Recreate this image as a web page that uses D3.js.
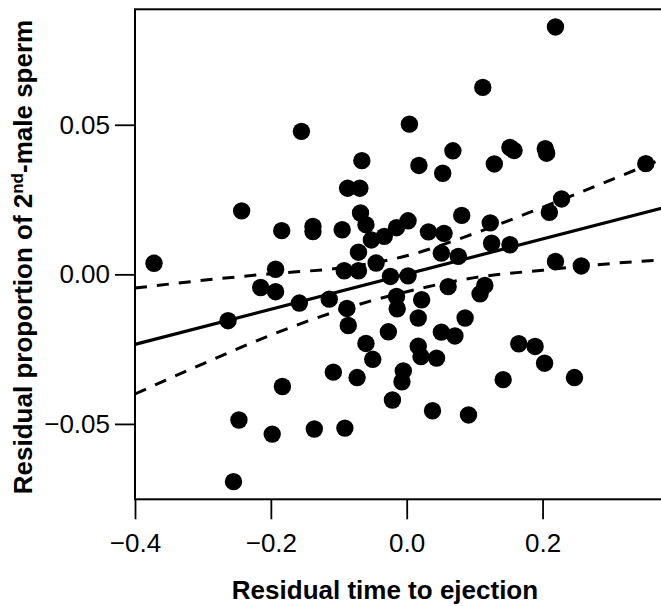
<!DOCTYPE html>
<html lang="en">
<head>
<meta charset="utf-8">
<title>Residual time to ejection vs 2nd-male sperm</title>
<script src="https://d3js.org/d3.v7.min.js"></script>
<style>
  body { margin: 0; background: #fff; }
  text { font-family: "Liberation Sans", Arial, Helvetica, sans-serif; fill: #000; }
</style>
</head>
<body>
<script>
// points
var residTime = [0.219, 0.112, 0.004, -0.155, 0.152, 0.158, 0.204, 0.206, 0.068, -0.066,
  0.352, 0.129, 0.018, 0.053, -0.087, -0.069, 0.228, 0.210, -0.243, -0.068,
  0.081, 0.123, -0.060, -0.184, -0.138, -0.138, -0.095, 0.002, -0.015, -0.033,
  -0.052, 0.032, 0.055, 0.125, 0.152, 0.051, 0.076, -0.071, -0.045, 0.219,
  0.257, -0.372, -0.193, -0.092, -0.071, -0.024, 0.002, -0.215, -0.193, -0.263,
  -0.158, -0.114, -0.088, -0.086, -0.015, -0.014, 0.022, 0.061, 0.115, 0.108,
  0.017, 0.086, -0.027, 0.051, 0.071, -0.060, -0.050, 0.017, 0.021, 0.044,
  0.165, 0.189, 0.203, -0.108, -0.073, -0.005, -0.007, 0.142, 0.247, -0.183,
  -0.021, 0.038, 0.091, -0.247, -0.198, -0.136, -0.091, -0.255];
var residProp = [0.0827, 0.0625, 0.0502, 0.0478, 0.0424, 0.0414, 0.0420, 0.0405, 0.0413, 0.0380,
  0.0370, 0.0369, 0.0364, 0.0338, 0.0288, 0.0288, 0.0252, 0.0207, 0.0212, 0.0205,
  0.0197, 0.0172, 0.0166, 0.0146, 0.0160, 0.0143, 0.0149, 0.0179, 0.0156, 0.0127,
  0.0115, 0.0142, 0.0137, 0.0104, 0.0099, 0.0071, 0.0060, 0.0074, 0.0038, 0.0043,
  0.0028, 0.0037, 0.0017, 0.0012, 0.0012, -0.0007, -0.0005, -0.0044, -0.0058, -0.0155,
  -0.0096, -0.0083, -0.0114, -0.0171, -0.0074, -0.0115, -0.0085, -0.0041, -0.0037, -0.0065,
  -0.0146, -0.0146, -0.0192, -0.0193, -0.0206, -0.0231, -0.0284, -0.0240, -0.0275, -0.0280,
  -0.0232, -0.0241, -0.0297, -0.0327, -0.0345, -0.0323, -0.0359, -0.0352, -0.0345, -0.0375,
  -0.0420, -0.0456, -0.0470, -0.0487, -0.0534, -0.0517, -0.0514, -0.0693];

// fitted line and its confidence band
var fitX = [-0.4, 0.375];
var fitY = [-0.0234, 0.0221];
var bandX = [-0.4, -0.3, -0.2, -0.1, 0, 0.1, 0.2, 0.3, 0.375];
var bandUpper = [-0.0046, -0.0020, 0.0002, 0.0021, 0.0062, 0.0137, 0.0224, 0.0315, 0.0385];
var bandLower = [-0.0400, -0.0299, -0.0203, -0.0121, -0.0058, -0.0011, 0.0014, 0.0036, 0.0048];

var xTicks = [-0.4, -0.2, 0.0, 0.2];
var yTicks = [-0.05, 0.00, 0.05];

var width = 661, height = 606;
var plotLeft = 135, plotTop = 9.3, plotBottom = 499.3;

var x = d3.scaleLinear().domain([-0.4, 0.4]).range([plotLeft, 678.4]);
var y = d3.scaleLinear().domain([-0.0752, 0.0886]).range([plotBottom, plotTop]);

var svg = d3.select("body").append("svg")
  .attr("width", width)
  .attr("height", height);

var fmtX = function(d) { return d3.format(".1f")(d).replace("-", "\u2212"); };
var fmtY = function(d) { return d3.format(".2f")(d).replace("-", "\u2212"); };

//x axis
var xAxis = svg.append("g")
  .attr("transform", "translate(0," + plotBottom + ")")
  .call(d3.axisBottom(x).tickValues(xTicks).tickSize(20).tickPadding(14).tickFormat(fmtX));
xAxis.select(".domain").remove();
xAxis.selectAll("line").attr("stroke-width", 1.8);
xAxis.selectAll("text").style("font-size", "26px");

//y axis
var yAxis = svg.append("g")
  .attr("transform", "translate(" + plotLeft + ",0)")
  .call(d3.axisLeft(y).tickValues(yTicks).tickSize(20).tickPadding(5).tickFormat(fmtY));
yAxis.select(".domain").remove();
yAxis.selectAll("line").attr("stroke-width", 1.8);
yAxis.selectAll("text").style("font-size", "26px");

// box (right side falls off the picture)
svg.append("rect")
  .attr("x", plotLeft)
  .attr("y", plotTop)
  .attr("width", x(0.4) - plotLeft)
  .attr("height", plotBottom - plotTop)
  .attr("fill", "none")
  .attr("stroke", "#000")
  .attr("stroke-width", 2);

// points
svg.append("g").selectAll("circle")
  .data(residTime)
  .enter()
  .append("circle")
  .attr("cx", function(d) { return x(d); })
  .attr("cy", function(d, i) { return y(residProp[i]); })
  .attr("r", 8.7)
  .attr("fill", "#000");

// regression line
var fitLine = d3.line()
  .x(function(d) { return x(d[0]); })
  .y(function(d) { return y(d[1]); });
svg.append("path")
  .attr("d", fitLine(d3.zip(fitX, fitY)))
  .attr("fill", "none")
  .attr("stroke", "#000")
  .attr("stroke-width", 3.2);

// confidence band
var bandLine = d3.line()
  .curve(d3.curveMonotoneX)
  .x(function(d) { return x(d[0]); })
  .y(function(d) { return y(d[1]); });
[bandUpper, bandLower].forEach(function(b) {
  svg.append("path")
    .attr("d", bandLine(d3.zip(bandX, b)))
    .attr("fill", "none")
    .attr("stroke", "#000")
    .attr("stroke-width", 3)
    .attr("stroke-dasharray", "12,10");
});

// axis titles
svg.append("text")
  .attr("x", 385)
  .attr("y", 599)
  .attr("text-anchor", "middle")
  .style("font-size", "26px")
  .style("font-weight", "bold")
  .text("Residual time to ejection");

var yTitle = svg.append("text")
  .attr("transform", "translate(32," + 257 + ") rotate(-90)")
  .attr("text-anchor", "middle")
  .style("font-size", "26px")
  .style("font-weight", "bold");
yTitle.append("tspan").text("Residual proportion of 2");
yTitle.append("tspan").attr("dy", -9).style("font-size", "17px").text("nd");
yTitle.append("tspan").attr("dy", 9).text("-male sperm");
</script>
</body>
</html>
